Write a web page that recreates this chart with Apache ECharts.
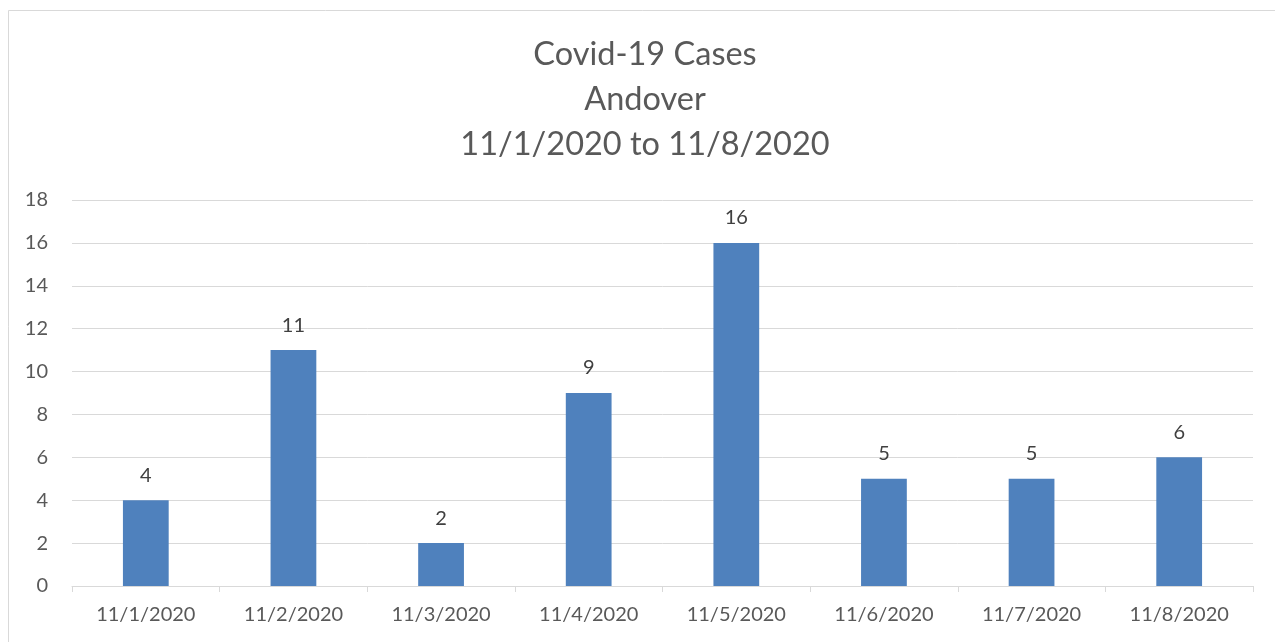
<!DOCTYPE html>
<html><head><meta charset="utf-8">
<script src="https://cdn.jsdelivr.net/npm/echarts@6/dist/echarts.min.js"></script>
<style>html,body{margin:0;padding:0;background:#fff}#c{width:1275px;height:642px}</style>
</head><body><div id="c"></div>
<script>
var categories = ['11/1/2020','11/2/2020','11/3/2020','11/4/2020','11/5/2020','11/6/2020','11/7/2020','11/8/2020'];
var cases = [4, 11, 2, 9, 16, 5, 5, 6];
var titleLines = ['Covid-19 Cases', 'Andover', '11/1/2020 to 11/8/2020'];
var yMin = 0, yMax = 18, yStep = 2;

var font = 'Lato';
var chart = echarts.init(document.getElementById('c'));
chart.setOption({
  animation: false,
  backgroundColor: '#fff',
  graphic: [{type:'rect', shape:{x:8.5, y:10.5, width:1300, height:700}, style:{fill:'none', stroke:'#d9d9d9', lineWidth:1}, silent:true}],
  title: {
    text: titleLines.join('\n'),
    left: 640, top: 27, textAlign: 'center',
    textStyle: {fontFamily: font, fontSize: 32.5, fontWeight: 'normal', color: '#595959', lineHeight: 45}
  },
  grid: {left: 72, right: 22, top: 200, bottom: 56, containLabel: false},
  xAxis: {
    type: 'category', data: categories,
    axisLine: {lineStyle: {color: '#d9d9d9', width: 1}},
    axisTick: {show: true, length: 6, lineStyle: {color: '#d9d9d9'}},
    axisLabel: {fontFamily: font, fontSize: 20, color: '#595959', margin: 19}
  },
  yAxis: {
    type: 'value', min: yMin, max: yMax, interval: yStep,
    axisLine: {show: false}, axisTick: {show: false},
    axisLabel: {fontFamily: font, fontSize: 20, color: '#595959', margin: 24},
    splitLine: {lineStyle: {color: '#d9d9d9', width: 1}}
  },
  series: [{
    type: 'bar', data: cases, barWidth: '31%',
    itemStyle: {color: '#4F81BD'},
    label: {show: true, position: 'top', distance: 15, fontFamily: font, fontSize: 20, color: '#404040'}
  }]
});
</script></body></html>
